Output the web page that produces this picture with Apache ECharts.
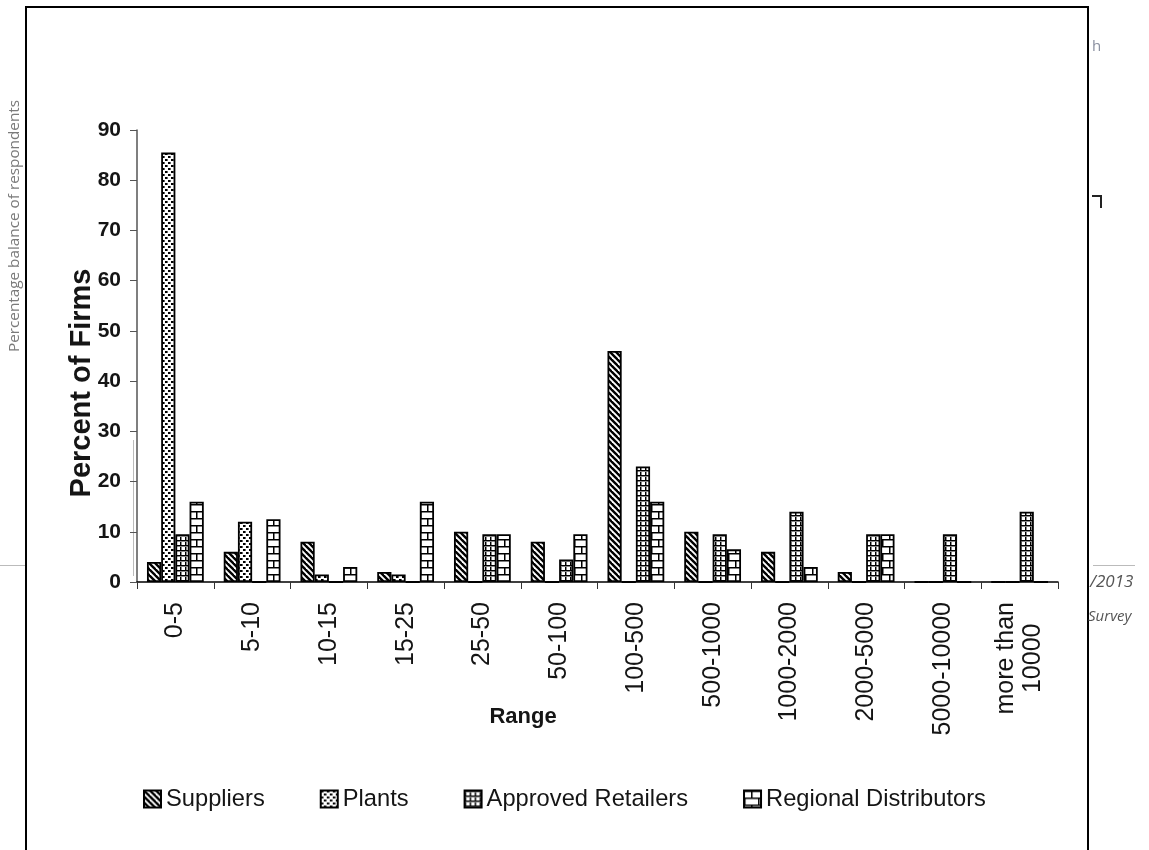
<!DOCTYPE html>
<html>
<head>
<meta charset="utf-8">
<script src="https://cdn.jsdelivr.net/npm/echarts@6/dist/echarts.min.js"></script>
<style>
  html, body { margin: 0; padding: 0; background: #fff; }
  #chart { width: 1149px; height: 850px; }
</style>
</head>
<body>
<div id="chart"></div>
<script>
// Firm-size ranges on the category axis
const categories = ['0-5', '5-10', '10-15', '15-25', '25-50', '50-100', '100-500',
  '500-1000', '1000-2000', '2000-5000', '5000-10000', 'more than\n10000'];

const seriesNames = ['Suppliers', 'Plants', 'Approved Retailers', 'Regional Distributors'];

// Percent of firms in each range
const suppliers            = [4,    6,    8,   2,    10,  8,   46, 10,  6,  2,   0,   0];
const plants               = [85.5, 12,   1.5, 1.5,  0,   0,   0,  0,   0,  0,   0,   0];
const approvedRetailers    = [9.5,  0,    0,   0,    9.5, 4.5, 23, 9.5, 14, 9.5, 9.5, 14];
const regionalDistributors = [16,   12.5, 3,   16,   9.5, 9.5, 16, 6.5, 3,  9.5, 0,   0];

// Value axis ticks
const yMin = 0, yMax = 90, yStep = 10;

const FONT = "'Liberation Sans', Arial, Helvetica, sans-serif";

// Small monochrome fill patterns, one per series
function makePattern(w, h, draw) {
  const c = document.createElement('canvas');
  c.width = w; c.height = h;
  const g = c.getContext('2d');
  g.fillStyle = '#fff';
  g.fillRect(0, 0, w, h);
  g.fillStyle = '#000';
  g.strokeStyle = '#000';
  draw(g, w, h);
  return { image: c, repeat: 'repeat' };
}

const diagonalFill = makePattern(6, 6, (g) => {
  g.lineWidth = 2.4;
  for (let o = -6; o <= 6; o += 6) {
    g.beginPath();
    g.moveTo(o - 1, -1);
    g.lineTo(o + 7, 7);
    g.stroke();
  }
});

const dottedFill = makePattern(6, 6, (g) => {
  g.fillRect(0, 0, 2, 2);
  g.fillRect(3, 3, 2, 2);
  g.fillStyle = '#666';
  g.fillRect(2, 0, 1, 2);
  g.fillRect(5, 3, 1, 2);
});

const gridFill = makePattern(5, 5, (g) => {
  g.fillRect(0, 0, 5, 1);
  g.fillRect(0, 0, 1, 5);
  g.fillStyle = '#888';
  g.fillRect(0, 1, 5, 1);
  g.fillRect(1, 1, 1, 4);
});

const brickFill = makePattern(14, 14, (g) => {
  g.fillRect(0, 0, 14, 1.5);
  g.fillRect(0, 7, 14, 1.5);
  g.fillRect(7, 0, 1.5, 7);
  g.fillRect(0, 7, 1.5, 7);
});

const fills = [diagonalFill, dottedFill, gridFill, brickFill];
const values = [suppliers, plants, approvedRetailers, regionalDistributors];

const series = seriesNames.map((name, i) => ({
  name,
  type: 'bar',
  data: values[i],
  barGap: '0%',
  barCategoryGap: '26%',
  itemStyle: { color: fills[i], borderColor: '#000', borderWidth: 1.8 },
  emphasis: { disabled: true }
}));

const chart = echarts.init(document.getElementById('chart'), null, { renderer: 'canvas' });

chart.setOption({
  animation: false,
  backgroundColor: '#fff',
  textStyle: { fontFamily: FONT },
  grid: { left: 137, right: 91, top: 130, bottom: 268, containLabel: false },
  legend: {
    data: seriesNames,
    left: 138,
    top: 782,
    icon: 'rect',
    itemWidth: 17,
    itemHeight: 17,
    itemGap: 55,
    itemStyle: { borderColor: '#000', borderWidth: 2 },
    textStyle: { fontSize: 23.7, color: '#151515', fontFamily: FONT },
    selectedMode: false
  },
  xAxis: {
    type: 'category',
    data: categories,
    axisLine: { lineStyle: { color: '#000', width: 1.5 } },
    axisTick: { show: true, length: 7, lineStyle: { color: '#333', width: 1 } },
    axisLabel: {
      interval: 0,
      rotate: 90,
      margin: 20,
      fontSize: 25,
      lineHeight: 27,
      color: '#151515',
      fontFamily: FONT,
      formatter: (v) => {
        const lines = v.split('\n');
        return lines.map((l, k) => (k === 0 ? l : '{c|' + l + '}')).join('\n');
      },
      rich: { c: { align: 'center', fontSize: 25, lineHeight: 27, color: '#151515', fontFamily: FONT } }
    }
  },
  yAxis: {
    type: 'value',
    min: yMin,
    max: yMax,
    interval: yStep,
    axisLine: { show: true, lineStyle: { color: '#555', width: 1.5 } },
    axisTick: { show: true, length: 7, lineStyle: { color: '#555', width: 1 } },
    axisLabel: { fontSize: 21, fontWeight: 'bold', margin: 16, color: '#151515', fontFamily: FONT },
    splitLine: { show: false }
  },
  series,
  graphic: [
    // outer frame
    { type: 'rect', shape: { x: 26, y: 7, width: 1062, height: 900 },
      style: { fill: 'none', stroke: '#000', lineWidth: 2 }, silent: true },
    // axis titles
    { type: 'text', x: 82, y: 383, rotation: Math.PI / 2,
      style: { text: 'Percent of Firms', font: "bold 29px " + FONT, fill: '#151515',
               align: 'center', verticalAlign: 'middle' } },
    { type: 'text', x: 523, y: 717,
      style: { text: 'Range', font: "bold 22px " + FONT, fill: '#151515',
               align: 'center', verticalAlign: 'middle' } },
    // surrounding page remnants
    { type: 'text', x: 15, y: 226, rotation: Math.PI / 2,
      style: { text: 'Percentage balance of respondents', font: "15.3px 'Open Sans', sans-serif",
               fill: '#7a7a7a', align: 'center', verticalAlign: 'middle' } },
    { type: 'line', shape: { x1: 0, y1: 565.5, x2: 25, y2: 565.5 }, style: { stroke: '#bbb', lineWidth: 1 } },
    { type: 'line', shape: { x1: 133.5, y1: 440, x2: 133.5, y2: 576 }, style: { stroke: '#bbb', lineWidth: 1 } },
    { type: 'text', x: 1092, y: 47,
      style: { text: 'h', font: "15px 'Open Sans', sans-serif", fill: '#8a90a0', align: 'left', verticalAlign: 'middle' } },
    { type: 'polyline', shape: { points: [[1092, 196], [1101, 196], [1101, 208]] },
      style: { stroke: '#222', lineWidth: 2, fill: 'none' } },
    { type: 'line', shape: { x1: 1093, y1: 565.5, x2: 1135, y2: 565.5 }, style: { stroke: '#bbb', lineWidth: 1 } },
    { type: 'text', x: 1090, y: 582,
      style: { text: '/2013', font: "italic 17px 'Open Sans', sans-serif", fill: '#555', align: 'left', verticalAlign: 'middle' } },
    { type: 'text', x: 1088, y: 617,
      style: { text: 'Survey', font: "italic 15px 'Open Sans', sans-serif", fill: '#555', align: 'left', verticalAlign: 'middle' } }
  ]
});
</script>
</body>
</html>
